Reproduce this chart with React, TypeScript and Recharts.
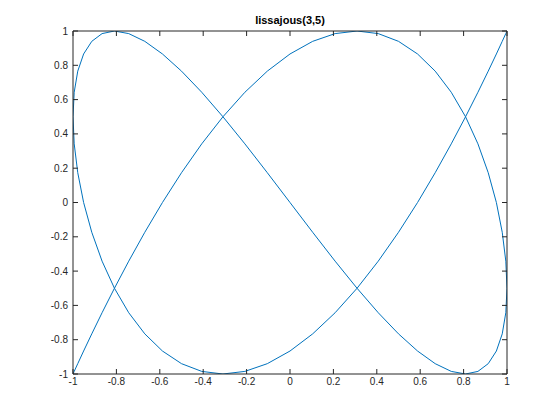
import { LineChart, Line, XAxis, YAxis } from "recharts";

// points, in drawing order
const xs = [
  1, 0.9945, 0.9781, 0.9511, 0.9135, 0.866, 0.809, 0.7431, 0.6691, 0.5878,
  0.5, 0.4067, 0.309, 0.2079, 0.1045, 0, -0.1045, -0.2079, -0.309, -0.4067,
  -0.5, -0.5878, -0.6691, -0.7431, -0.809, -0.866, -0.9135, -0.9511, -0.9781, -0.9945,
  -1, -0.9945, -0.9781, -0.9511, -0.9135, -0.866, -0.809, -0.7431, -0.6691, -0.5878,
  -0.5, -0.4067, -0.309, -0.2079, -0.1045, 0, 0.1045, 0.2079, 0.309, 0.4067,
  0.5, 0.5878, 0.6691, 0.7431, 0.809, 0.866, 0.9135, 0.9511, 0.9781, 0.9945,
  1, 0.9945, 0.9781, 0.9511, 0.9135, 0.866, 0.809, 0.7431, 0.6691, 0.5878,
  0.5, 0.4067, 0.309, 0.2079, 0.1045, 0, -0.1045, -0.2079, -0.309, -0.4067,
  -0.5, -0.5878, -0.6691, -0.7431, -0.809, -0.866, -0.9135, -0.9511, -0.9781, -0.9945,
  -1,
];
const ys = [
  1, 0.9848, 0.9397, 0.866, 0.766, 0.6428, 0.5, 0.342, 0.1736, 0,
  -0.1736, -0.342, -0.5, -0.6428, -0.766, -0.866, -0.9397, -0.9848, -1, -0.9848,
  -0.9397, -0.866, -0.766, -0.6428, -0.5, -0.342, -0.1736, 0, 0.1736, 0.342,
  0.5, 0.6428, 0.766, 0.866, 0.9397, 0.9848, 1, 0.9848, 0.9397, 0.866,
  0.766, 0.6428, 0.5, 0.342, 0.1736, 0, -0.1736, -0.342, -0.5, -0.6428,
  -0.766, -0.866, -0.9397, -0.9848, -1, -0.9848, -0.9397, -0.866, -0.766, -0.6428,
  -0.5, -0.342, -0.1736, 0, 0.1736, 0.342, 0.5, 0.6428, 0.766, 0.866,
  0.9397, 0.9848, 1, 0.9848, 0.9397, 0.866, 0.766, 0.6428, 0.5, 0.342,
  0.1736, 0, -0.1736, -0.342, -0.5, -0.6428, -0.766, -0.866, -0.9397, -0.9848,
  -1,
];
const xTicks = [-1, -0.8, -0.6, -0.4, -0.2, 0, 0.2, 0.4, 0.6, 0.8, 1];
const yTicks = [-1, -0.8, -0.6, -0.4, -0.2, 0, 0.2, 0.4, 0.6, 0.8, 1];

const data = xs.map((x, i) => ({ x, y: ys[i] }));

const axisColor = "#262626";
const tickFont = { fontSize: 10, fill: axisColor, fontFamily: "Liberation Sans, Arial, sans-serif" };
const noLabel = () => <g />;

export default function App() {
  return (
    <div style={{ position: "absolute", left: 0, top: 0, width: 560, height: 420, background: "#fff" }}>
      <div
        style={{
          position: "absolute",
          left: 73,
          width: 434,
          top: 14,
          textAlign: "center",
          fontFamily: "Liberation Sans, Arial, sans-serif",
          fontWeight: "bold",
          fontSize: 11,
          lineHeight: "13px",
          color: "#000",
        }}
      >
        lissajous(3,5)
      </div>
      <LineChart width={560} height={420} data={data} margin={{ top: 30, right: 52, bottom: 16, left: 0 }}>
        <XAxis
          xAxisId="b"
          type="number"
          dataKey="x"
          domain={[-1, 1]}
          ticks={xTicks}
          height={30}
          tickSize={-5}
          tickMargin={9}
          tick={tickFont}
          stroke={axisColor}
          allowDataOverflow
        />
        <XAxis
          xAxisId="t"
          orientation="top"
          type="number"
          dataKey="x"
          domain={[-1, 1]}
          ticks={xTicks}
          height={1}
          tickSize={-5}
          tick={noLabel}
          stroke={axisColor}
          allowDataOverflow
        />
        <YAxis
          yAxisId="l"
          type="number"
          domain={[-1, 1]}
          ticks={yTicks}
          width={73}
          tickSize={-5}
          tickMargin={10}
          tick={tickFont}
          stroke={axisColor}
          allowDataOverflow
        />
        <YAxis
          yAxisId="r"
          orientation="right"
          type="number"
          domain={[-1, 1]}
          ticks={yTicks}
          width={1}
          tickSize={-5}
          tick={noLabel}
          stroke={axisColor}
          allowDataOverflow
        />
        <Line
          xAxisId="b"
          yAxisId="l"
          type="linear"
          dataKey="y"
          stroke="#0072BD"
          strokeWidth={1}
          dot={false}
          isAnimationActive={false}
        />
      </LineChart>
    </div>
  );
}
